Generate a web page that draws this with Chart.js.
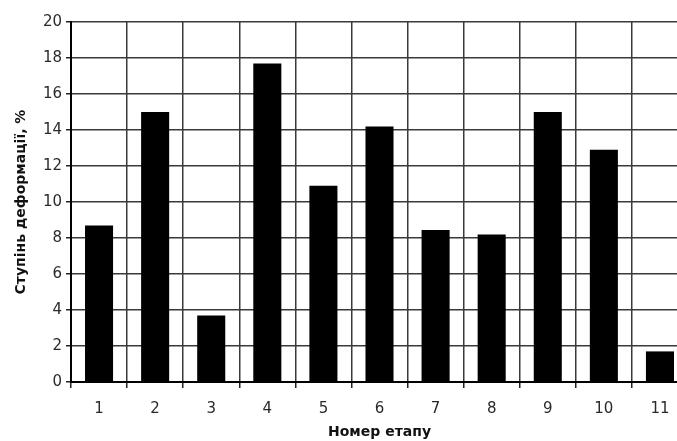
<!DOCTYPE html>
<html lang="uk">
<head>
<meta charset="UTF-8">
<title>Ступінь деформації</title>
<script src="https://cdn.jsdelivr.net/npm/chart.js"></script>
<style>
  html, body { margin: 0; padding: 0; background: #fff; overflow: hidden; }
  #wrap { width: 677px; height: 441px; overflow: hidden; }
</style>
</head>
<body>
<div id="wrap">
  <canvas id="deformChart" width="700" height="441"></canvas>
</div>
<script>
// stage numbers (x axis)
const stages = ['1', '2', '3', '4', '5', '6', '7', '8', '9', '10', '11'];
// degree of deformation, %
const deformation = [8.7, 15.0, 3.7, 17.7, 10.9, 14.2, 8.45, 8.2, 15.0, 12.9, 1.7];
// y axis range
const yMin = 0;
const yMax = 20;
const yStep = 2;

const xTitle = 'Номер етапу';
const yTitle = 'Ступінь деформації, %';

const ctx = document.getElementById('deformChart').getContext('2d');

const chart = new Chart(ctx, {
    type: 'bar',
    data: {
        labels: stages,
        datasets: [{
            data: deformation,
            backgroundColor: '#000',
            borderWidth: 0,
            barPercentage: 0.5,
            categoryPercentage: 1.0
        }]
    },
    options: {
        responsive: false,
        animation: false,
        devicePixelRatio: 1,
        layout: {
            padding: { top: 22, right: 12, bottom: 0, left: 0 }
        },
        plugins: {
            legend: { display: false },
            tooltip: { enabled: false }
        },
        scales: {
            x: {
                grid: {
                    color: '#3a3a3a',
                    lineWidth: 1.5,
                    tickColor: '#222',
                    tickLength: 6,
                    offset: true
                },
                border: { color: '#000', width: 2 },
                ticks: {
                    color: '#2a2a2a',
                    padding: 12,
                    font: { family: 'DejaVu Sans', size: 15 }
                },
                title: {
                    display: true,
                    text: xTitle,
                    color: '#111',
                    padding: { top: 0, bottom: 0 },
                    font: { family: 'DejaVu Sans', size: 14, weight: 'bold' }
                },
                afterFit: (scale) => { scale.height = 59; }
            },
            y: {
                min: yMin,
                max: yMax,
                grid: {
                    color: '#3a3a3a',
                    lineWidth: 1.5,
                    tickColor: '#222',
                    tickLength: 5
                },
                border: { color: '#000', width: 2 },
                ticks: {
                    stepSize: yStep,
                    color: '#2a2a2a',
                    padding: 4,
                    font: { family: 'DejaVu Sans', size: 15 }
                },
                title: {
                    display: true,
                    text: yTitle,
                    color: '#111',
                    padding: { top: 13, bottom: 0 },
                    font: { family: 'DejaVu Sans', size: 14, weight: 'bold' }
                },
                afterFit: (scale) => { scale.width = 71; }
            }
        }
    }
});
</script>
</body>
</html>
